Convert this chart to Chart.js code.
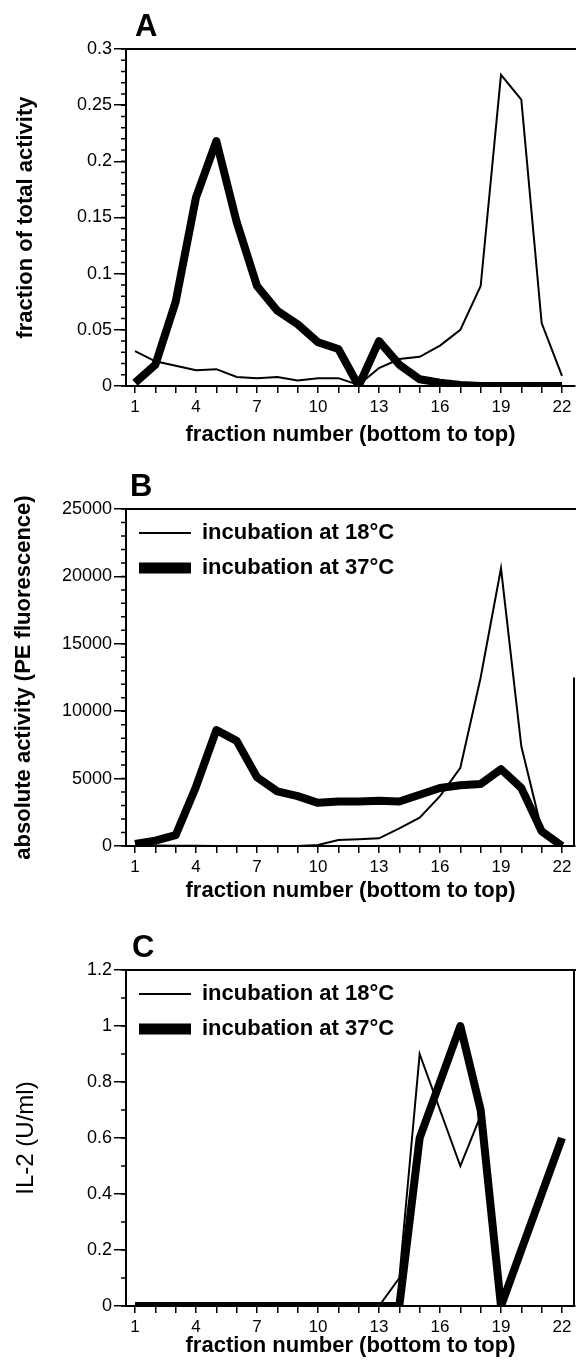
<!DOCTYPE html>
<html>
<head>
<meta charset="utf-8">
<script src="https://cdn.jsdelivr.net/npm/chart.js@4.4.1/dist/chart.umd.min.js"></script>
<style>
  body { margin: 0; background: #fff; width: 576px; height: 1366px; position: relative; overflow: hidden; }
  canvas { position: absolute; left: 0; }
</style>
</head>
<body>
<canvas id="panelA" width="576" height="460" style="top:0px"></canvas>
<canvas id="panelB" width="576" height="462" style="top:460px"></canvas>
<canvas id="panelC" width="576" height="444" style="top:922px"></canvas>
<script>
const fractions = [1, 2, 3, 4, 5, 6, 7, 8, 9, 10, 11, 12, 13, 14, 15, 16, 17, 18, 19, 20, 21, 22];
const xTickLabels = [1, 4, 7, 10, 13, 16, 19, 22];
const seriesNames = ['incubation at 18°C', 'incubation at 37°C'];

// A: fraction of total activity
const shareAt18 = [0.031, 0.022, 0.018, 0.014, 0.015, 0.008, 0.007, 0.008, 0.005, 0.007, 0.007, 0.001, 0.016, 0.024, 0.026, 0.036, 0.05, 0.089, 0.277, 0.255, 0.056, 0.009];
const shareAt37 = [0.003, 0.019, 0.075, 0.168, 0.218, 0.146, 0.089, 0.067, 0.055, 0.039, 0.033, 0, 0.04, 0.019, 0.006, 0.003, 0.001, 0, 0, 0, 0, 0];
const shareTicks = [0, 0.05, 0.1, 0.15, 0.2, 0.25, 0.3];

// B: absolute activity (PE fluorescence)
const peAt18 = [50, 30, 20, 10, 0, 0, 0, 0, 0, 80, 450, 500, 570, 1300, 2100, 3700, 5800, 12500, 20600, 7400, 1200, 0];
const peAt37 = [150, 400, 800, 4400, 8600, 7800, 5100, 4050, 3700, 3200, 3300, 3300, 3350, 3300, 3800, 4300, 4500, 4600, 5700, 4300, 1100, 0];
const peTicks = [0, 5000, 10000, 15000, 20000, 25000];

// C: IL-2 (U/ml)
const il2At18 = [0, 0, 0, 0, 0, 0, 0, 0, 0, 0, 0, 0, 0, 0.1, 0.9, 0.7, 0.5, 0.68, 0, 0, 0, 0];
const il2At37 = [0, 0, 0, 0, 0, 0, 0, 0, 0, 0, 0, 0, 0, 0, 0.6, 0.8, 1.0, 0.7, 0, 0.2, 0.4, 0.6];
const il2Ticks = [0, 0.2, 0.4, 0.6, 0.8, 1, 1.2];

const FONT = '"Liberation Sans", Arial, Helvetica, sans-serif';
const toPoints = (vals) => fractions.map((f, i) => ({x: f, y: vals[i]}));

// minor ticks, top/right frame and the panel letter
const panelDeco = {
  id: 'panelDeco',
  afterLayout(chart) {
    // legend in 'chartArea' mode starts at the canvas top, move it into the plot
    const lg = chart.legend;
    if (lg && lg.options.display) {
      const h = lg.bottom - lg.top;
      lg.top = chart.chartArea.top;
      lg.bottom = lg.top + h;
    }
  },
  afterDraw(chart, args, o) {
    const {ctx, chartArea: a} = chart;
    const y = chart.scales.y;
    ctx.save();
    ctx.strokeStyle = '#000';
    ctx.lineWidth = 1.5;
    ctx.beginPath();
    const n = Math.round((y.max - y.min) / o.minor);
    for (let i = 0; i <= n; i++) {
      const py = y.getPixelForValue(y.min + i * o.minor);
      ctx.moveTo(a.left - 5, py);
      ctx.lineTo(a.left, py);
    }
    ctx.stroke();
    ctx.lineWidth = 2;
    ctx.beginPath();
    ctx.moveTo(a.left, a.top);
    ctx.lineTo(chart.width, a.top);
    if (o.rightFrom !== undefined) {
      ctx.moveTo(a.right - 1, y.getPixelForValue(o.rightFrom));
      ctx.lineTo(a.right - 1, a.bottom);
    }
    ctx.stroke();
    ctx.fillStyle = '#000';
    ctx.font = 'bold 31px ' + FONT;
    ctx.textAlign = 'left';
    ctx.textBaseline = 'alphabetic';
    ctx.fillText(o.letter, o.letterX, a.top - 13);
    ctx.restore();
  }
};

function makePanel(id, p) {
  new Chart(document.getElementById(id), {
    type: 'line',
    data: {
      datasets: [
        {label: seriesNames[0], data: toPoints(p.s18), borderColor: '#000', backgroundColor: '#000', borderWidth: 2, borderJoinStyle: 'miter'},
        {label: seriesNames[1], data: toPoints(p.s37), borderColor: '#000', backgroundColor: '#000', borderWidth: 8, borderJoinStyle: 'round'}
      ]
    },
    options: {
      responsive: false,
      animation: false,
      layout: {padding: {top: p.top, bottom: p.bottom, left: 0, right: 1}},
      elements: {point: {radius: 0}, line: {tension: 0}},
      scales: {
        x: {
          type: 'linear', min: 0.557, max: 22.64,
          afterBuildTicks: (s) => { s.ticks = fractions.map(v => ({value: v})); },
          afterFit: (s) => { s.height = p.xh; },
          ticks: {
            callback: (v) => xTickLabels.includes(v) ? String(v) : '',
            autoSkip: false, maxRotation: 0, color: '#000', padding: 4,
            font: {size: 17, family: FONT}
          },
          grid: {drawOnChartArea: false, tickLength: 7, color: '#000', lineWidth: 1.5},
          border: {color: '#000', width: 2},
          title: {
            display: true, text: 'fraction number (bottom to top)', color: '#000', padding: 0,
            font: {size: 22, weight: 'bold', family: FONT}
          }
        },
        y: {
          min: p.ticks[0], max: p.ticks[p.ticks.length - 1],
          afterBuildTicks: (s) => { s.ticks = p.ticks.map(v => ({value: v})); },
          afterFit: (s) => { s.width = 126; },
          ticks: {callback: (v) => String(v), color: '#000', padding: 2, font: {size: 18, family: FONT}},
          grid: {drawOnChartArea: false, tickLength: 12, color: '#000', lineWidth: 1.5},
          border: {color: '#000', width: 2},
          title: {
            display: true, text: p.yTitle, color: '#000', padding: {top: p.yPad},
            font: {size: p.yFont, weight: p.yWeight, family: FONT}
          }
        }
      },
      plugins: {
        tooltip: {enabled: false},
        legend: {
          display: p.legend,
          position: 'chartArea',
          align: 'start',
          labels: {
            usePointStyle: true, pointStyle: 'line', pointStyleWidth: 52, padding: 13,
            color: '#000', font: {size: 22, weight: 'bold', family: FONT},
            generateLabels: (chart) => Chart.defaults.plugins.legend.labels.generateLabels(chart)
              .map(l => ({...l, lineWidth: l.lineWidth > 4 ? 11 : 2}))
          }
        },
        panelDeco: {minor: p.minor, letter: p.letter, letterX: p.letterX, rightFrom: p.rightFrom}
      }
    },
    plugins: [panelDeco]
  });
}

makePanel('panelA', {
  s18: shareAt18, s37: shareAt37, ticks: shareTicks, minor: 0.01,
  yTitle: 'fraction of total activity', yFont: 22, yWeight: 'bold', yPad: 13,
  top: 49, bottom: 12, xh: 62, legend: false, letter: 'A', letterX: 135
});
makePanel('panelB', {
  s18: peAt18, s37: peAt37, ticks: peTicks, minor: 1000,
  yTitle: 'absolute activity (PE fluorescence)', yFont: 22, yWeight: 'bold', yPad: 11,
  top: 49, bottom: 18, xh: 58, legend: true, letter: 'B', letterX: 130, rightFrom: 12500
});
makePanel('panelC', {
  s18: il2At18, s37: il2At37, ticks: il2Ticks, minor: 0.1,
  yTitle: 'IL-2 (U/ml)', yFont: 24, yWeight: 'normal', yPad: 12,
  top: 48, bottom: 7, xh: 53, legend: true, letter: 'C', letterX: 132, rightFrom: 1.2
});
</script>
</body>
</html>
